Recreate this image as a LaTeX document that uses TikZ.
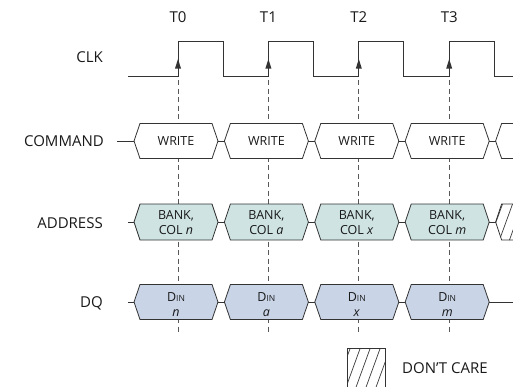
\documentclass[tikz,border=0pt]{standalone}
\usepackage{fontspec}
\setmainfont{Open Sans}
\definecolor{addrfill}{HTML}{CFE3E3}
\definecolor{dqfill}{HTML}{C9D4E7}
\definecolor{ink}{HTML}{333333}
\begin{document}
\begin{tikzpicture}[x=1pt,y=-1pt,line join=miter]
\useasboundingbox (0,0) rectangle (513,386);
\tikzset{
 sig/.style={draw=ink, line width=0.9pt},
 bus/.style={draw=ink, line width=0.8pt},
 guide/.style={draw=black!65, dash pattern=on 5pt off 3.5pt, line width=0.8pt},
 lbl/.style={font=\fontsize{15}{18}\selectfont, text=black!90, inner sep=0pt},
 btxt/.style={font=\fontsize{12.5}{15}\selectfont, align=center, inner sep=0pt, text=black!90},
 hatch/.style={draw=ink, line width=0.7pt},
}
% guide lines
\foreach \i in {0,...,3}
  \draw[guide] (178+90.4*\i,80) -- (178+90.4*\i,332);
% labels
\node[lbl] (t0) at (178,17) {T0};
\node[lbl] (t1) at (268.4,17) {T1};
\node[lbl] (t2) at (358.8,17) {T2};
\node[lbl] (t3) at (449.2,17) {T3};
\node[lbl,anchor=east] (lclk) at (103,57) {CLK};
\node[lbl,anchor=east] (lcmd) at (104,141) {COMMAND};
\node[lbl,anchor=east] (laddr) at (103,223) {ADDRESS};
\node[lbl,anchor=east] (ldq) at (103,303) {DQ};
% clock
\draw[sig] (128,76) -- (178,76) -- (178,41) -- (223,41) -- (223,76)
  -- (268.4,76) -- (268.4,41) -- (313.4,41) -- (313.4,76)
  -- (358.8,76) -- (358.8,41) -- (403.8,41) -- (403.8,76)
  -- (449.2,76) -- (449.2,41) -- (494.2,41) -- (494.2,76) -- (514,76);
\foreach \r in {178,268.4,358.8,449.2}
  \fill[ink] (\r,59) -- (\r-3,68.5) -- (\r+3,68.5) -- cycle;
% lead-in lines
\draw[bus] (117,141) -- (134,141);
\draw[bus] (128,222) -- (134,222);
\draw[bus] (128,302) -- (134,302);
% bus hexes
\foreach \i/\a/\d in {0/n/n,1/a/a,2/x/x,3/m/m}{
  \pgfmathsetmacro{\L}{134+90.4*\i}
  \draw[bus,fill=white] (\L,141) -- (\L+6,123.5) -- (\L+78,123.5) -- (\L+84,141) -- (\L+78,158.5) -- (\L+6,158.5) -- cycle;
  \node[btxt] (w\i) at (\L+42,141) {WRITE};
  \draw[bus,fill=addrfill] (\L,222) -- (\L+6,204) -- (\L+78,204) -- (\L+84,222) -- (\L+78,240) -- (\L+6,240) -- cycle;
  \node[btxt] (a\i) at (\L+42,222.5) {BANK,\\COL \textit{\a}};
  \draw[bus,fill=dqfill] (\L,302) -- (\L+6,284.5) -- (\L+78,284.5) -- (\L+84,302) -- (\L+78,319.5) -- (\L+6,319.5) -- cycle;
  \node[btxt] (d\i) at (\L+42,305) {D{\fontsize{8.5}{9}\selectfont IN}\\\textit{\d}};
}
\foreach \i in {0,...,3}{
  \pgfmathsetmacro{\R}{218+90.4*\i}
  \draw[bus] (\R,141) -- (\R+6.4,141);
  \draw[bus] (\R,222) -- (\R+6.4,222);
}
\foreach \i in {0,...,2}{
  \pgfmathsetmacro{\R}{218+90.4*\i}
  \draw[bus] (\R,302) -- (\R+6.4,302);
}
% trailing parts
\draw[bus] (514,123.5) -- (501.6,123.5) -- (495.6,141) -- (501.6,158.5) -- (514,158.5);
\begin{scope}
  \clip (514,204) -- (501.6,204) -- (495.6,222) -- (501.6,240) -- (514,240) -- cycle;
  \foreach \k in {0,...,3}
    \draw[hatch] (488+\k*10,244) -- (504+\k*10,200);
\end{scope}
\draw[bus] (514,204) -- (501.6,204) -- (495.6,222) -- (501.6,240) -- (514,240);
\draw[bus] (489.2,302) -- (514,302);
% legend
\begin{scope}
  \clip (347,348) rectangle (385,388);
  \foreach \k in {0,...,5}
    \draw[hatch] (335+\k*10,390) -- (351+\k*10,346);
\end{scope}
\draw[bus] (347,388) -- (347,348) -- (385,348) -- (385,388);
\node[lbl,anchor=west] (dc) at (402,368) {DON’T CARE};
\end{tikzpicture}
\end{document}
